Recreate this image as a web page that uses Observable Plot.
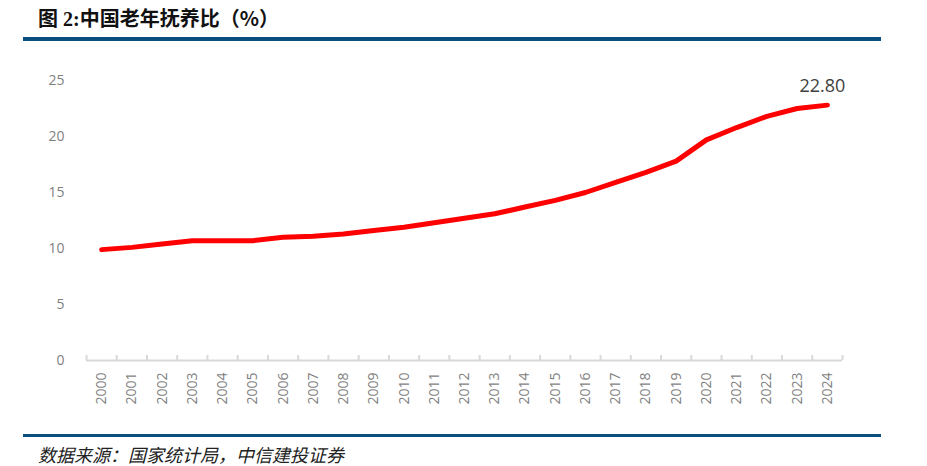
<!DOCTYPE html>
<html>
<head>
<meta charset="utf-8">
<script src="https://cdn.jsdelivr.net/npm/d3@7"></script>
<script src="https://cdn.jsdelivr.net/npm/@observablehq/plot@0.6"></script>
<style>
  html, body { margin: 0; padding: 0; background: #fff; }
  #wrap { position: relative; width: 927px; height: 466px; overflow: hidden; background: #fff; }
  #title { position: absolute; left: 38px; top: 8px; line-height: 20px; font-family: "Liberation Serif", "Noto Sans CJK SC", serif; font-weight: bold; font-size: 20px; color: #111; white-space: nowrap; }
  #title .cjk { font-family: "Noto Sans CJK SC", sans-serif; }
  .rule { position: absolute; left: 23px; width: 858px; background: #0b4f7e; }
  #chart { position: absolute; left: 0; top: 50px; }
  #caption { position: absolute; left: 38px; top: 445px; line-height: 18px; font-family: "Noto Sans CJK SC", sans-serif; font-style: italic; font-size: 18px; color: #222; white-space: nowrap; }
</style>
</head>
<body>
<div id="wrap">
  <div id="title"><span class="cjk">图</span> 2:<span class="cjk">中国老年抚养比（%）</span></div>
  <div class="rule" style="top:37px;height:4px"></div>
  <div id="chart"></div>
  <div class="rule" style="top:434px;height:3px"></div>
  <div id="caption">数据来源：国家统计局，中信建投证券</div>
</div>
<script>
const years = [2000,2001,2002,2003,2004,2005,2006,2007,2008,2009,2010,2011,2012,2013,2014,2015,2016,2017,2018,2019,2020,2021,2022,2023,2024];
const values = [9.9,10.1,10.4,10.7,10.7,10.7,11.0,11.1,11.3,11.6,11.9,12.3,12.7,13.1,13.7,14.3,15.0,15.9,16.8,17.8,19.7,20.8,21.8,22.5,22.8];
const yTicks = [0,5,10,15,20,25];

const data = years.map((year, i) => ({year, value: values[i]}));
const boundaries = years.map(y => y - 0.5).concat([years[years.length - 1] + 0.5]);
const last = data[data.length - 1];

const chart = Plot.plot({
  width: 927,
  height: 375,
  marginTop: 30,
  marginBottom: 65,
  marginLeft: 86,
  marginRight: 85,
  style: {fontFamily: "'Open Sans', sans-serif", fontSize: "14px", background: "transparent"},
  x: {type: "linear", domain: [years[0] - 0.5, years[years.length - 1] + 0.5]},
  y: {domain: [0, 25]},
  marks: [
    Plot.axisY({ticks: yTicks, tickSize: 0, tickPadding: 22, label: null, fill: "#7f7f7f", fontSize: 14}),
    Plot.axisX({ticks: years, tickSize: 0, tickPadding: 12, tickRotate: -90, tickFormat: d => String(d), label: null, fill: "#7f7f7f", fontSize: 14}),
    Plot.ruleY([0], {stroke: "#d9d9d9", strokeWidth: 2}),
    Plot.ruleX(boundaries, {x: d => d, y1: 0, y2: 0, insetTop: -5, stroke: "#d9d9d9", strokeWidth: 2}),
    Plot.line(data, {x: "year", y: "value", stroke: "#ff0000", strokeWidth: 5, strokeLinecap: "round", strokeLinejoin: "round"}),
    Plot.text([last], {x: "year", y: "value", text: d => d.value.toFixed(2), dx: -5, dy: -19, fontSize: 18, fill: "#404040"})
  ]
});
document.getElementById("chart").appendChild(chart);
</script>
</body>
</html>
